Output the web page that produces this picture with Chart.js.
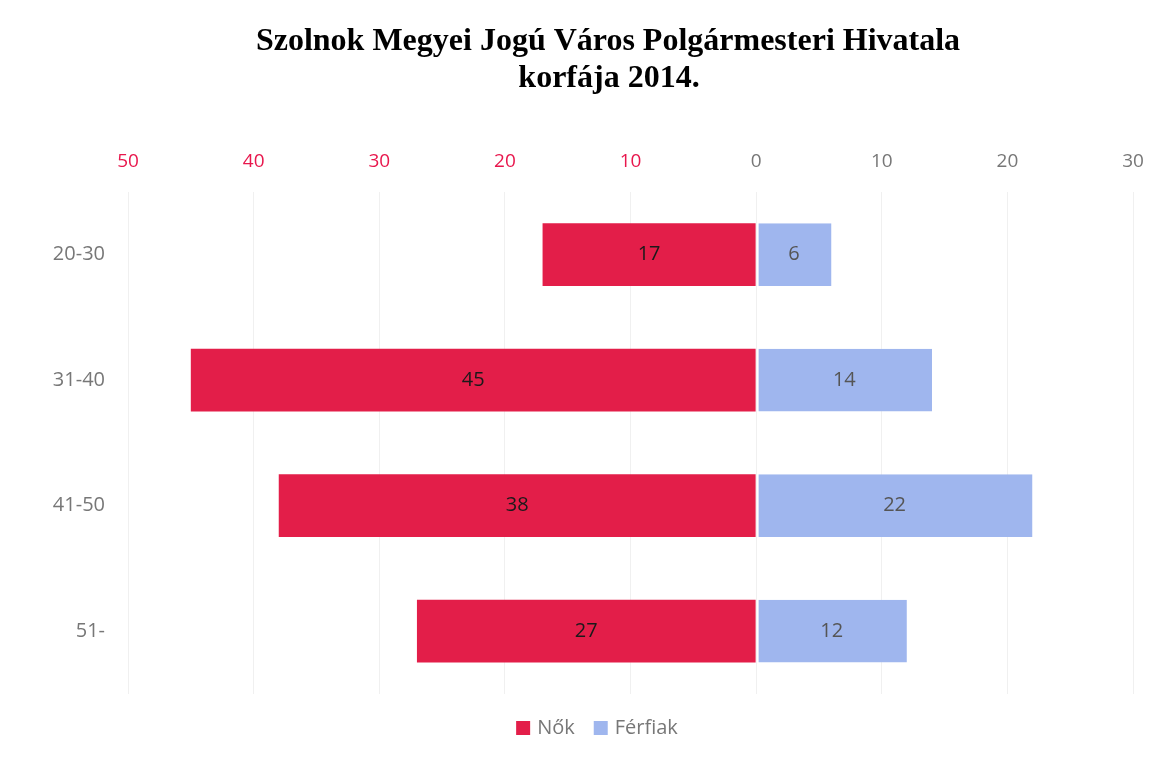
<!DOCTYPE html>
<html>
<head>
<meta charset="utf-8">
<script src="https://cdn.jsdelivr.net/npm/chart.js@4/dist/chart.umd.min.js"></script>
<style>
  html, body { margin: 0; padding: 0; background: #fff; }
  #wrap { width: 1168px; height: 759px; }
</style>
</head>
<body>
<div id="wrap"><canvas id="pyramid" width="1168" height="759"></canvas></div>
<script>
// DATA
const ageGroups = ['20-30', '31-40', '41-50', '51-'];
const women = [17, 45, 38, 27];   // Nők
const men = [6, 14, 22, 12];      // Férfiak
const tickValues = [-50, -40, -30, -20, -10, 0, 10, 20, 30];
const titleLines = ['Szolnok Megyei Jogú Város Polgármesteri Hivatala', 'korfája 2014.'];

const RED = '#e31e49';
const BLUE = '#9fb6ee';
const PINK_TICK = '#e8174d';
const GREY = '#777777';
const FONT = '"Open Sans", sans-serif';

// value labels in the middle of each bar
const barLabels = {
    id: 'barLabels',
    afterDatasetsDraw(chart) {
        const ctx = chart.ctx;
        ctx.save();
        ctx.font = '20px ' + FONT;
        ctx.textAlign = 'center';
        ctx.textBaseline = 'middle';
        chart.data.datasets.forEach((ds, i) => {
            chart.getDatasetMeta(i).data.forEach((bar, j) => {
                const x = (bar.x + bar.base) / 2;
                ctx.fillStyle = i === 0 ? '#1a1a1a' : '#555555';
                ctx.fillText(Math.abs(ds.data[j]), x, bar.y);
            });
        });
        ctx.restore();
    }
};

// title + legend drawn by hand so they sit where the original has them
const decor = {
    id: 'decor',
    afterDraw(chart) {
        const ctx = chart.ctx;
        ctx.save();
        ctx.fillStyle = '#000';
        ctx.textAlign = 'center';
        ctx.textBaseline = 'alphabetic';
        ctx.font = 'bold 32px "Liberation Serif", "Times New Roman", serif';
        ctx.fillText(titleLines[0], 608, 50);
        ctx.fillText(titleLines[1], 609, 87);

        // legend
        ctx.font = '20px ' + FONT;
        ctx.textAlign = 'left';
        ctx.textBaseline = 'middle';
        const box = 14, gapBox = 7, gapItem = 19;
        const items = chart.data.datasets.map(ds => ({ label: ds.label, color: ds.backgroundColor }));
        let total = 0;
        items.forEach((it, k) => {
            total += box + gapBox + ctx.measureText(it.label).width + (k ? gapItem : 0);
        });
        let x = 597 - total / 2;
        const y = 728;
        items.forEach((it, k) => {
            if (k) x += gapItem;
            ctx.fillStyle = it.color;
            ctx.fillRect(x, y - box / 2, box, box);
            x += box + gapBox;
            ctx.fillStyle = GREY;
            ctx.fillText(it.label, x, y);
            x += ctx.measureText(it.label).width;
        });
        ctx.restore();
    }
};

new Chart(document.getElementById('pyramid').getContext('2d'), {
    type: 'bar',
    data: {
        labels: ageGroups,
        datasets: [
            {
                label: 'Nők',
                data: women.map(v => -v),
                backgroundColor: RED,
                categoryPercentage: 0.5,
                barPercentage: 1
            },
            {
                label: 'Férfiak',
                data: men,
                backgroundColor: BLUE,
                borderColor: '#ffffff',
                borderWidth: { left: 2, right: 0, top: 0, bottom: 0 },
                borderSkipped: false,
                categoryPercentage: 0.5,
                barPercentage: 1
            }
        ]
    },
    options: {
        indexAxis: 'y',
        responsive: false,
        animation: false,
        layout: { padding: { left: 0, right: 35, top: 131, bottom: 65 } },
        scales: {
            x: {
                position: 'top',
                stacked: true,
                min: -50,
                max: 30,
                afterBuildTicks(axis) {
                    axis.ticks = tickValues.map(v => ({ value: v }));
                },
                ticks: {
                    padding: 19,
                    font: { family: FONT, size: 19 },
                    color: (c) => (c.tick && c.tick.value < 0) ? PINK_TICK : GREY,
                    callback: (v) => Math.abs(v)
                },
                grid: { color: '#f0f0f0', drawTicks: false },
                border: { display: false }
            },
            y: {
                stacked: true,
                afterFit(axis) { axis.width = 128; },
                ticks: {
                    padding: 23,
                    font: { family: FONT, size: 20 },
                    color: GREY
                },
                grid: { display: false, drawTicks: false },
                border: { display: false }
            }
        },
        plugins: {
            title: { display: false },
            legend: { display: false },
            tooltip: { enabled: false }
        }
    },
    plugins: [barLabels, decor]
});
</script>
</body>
</html>
